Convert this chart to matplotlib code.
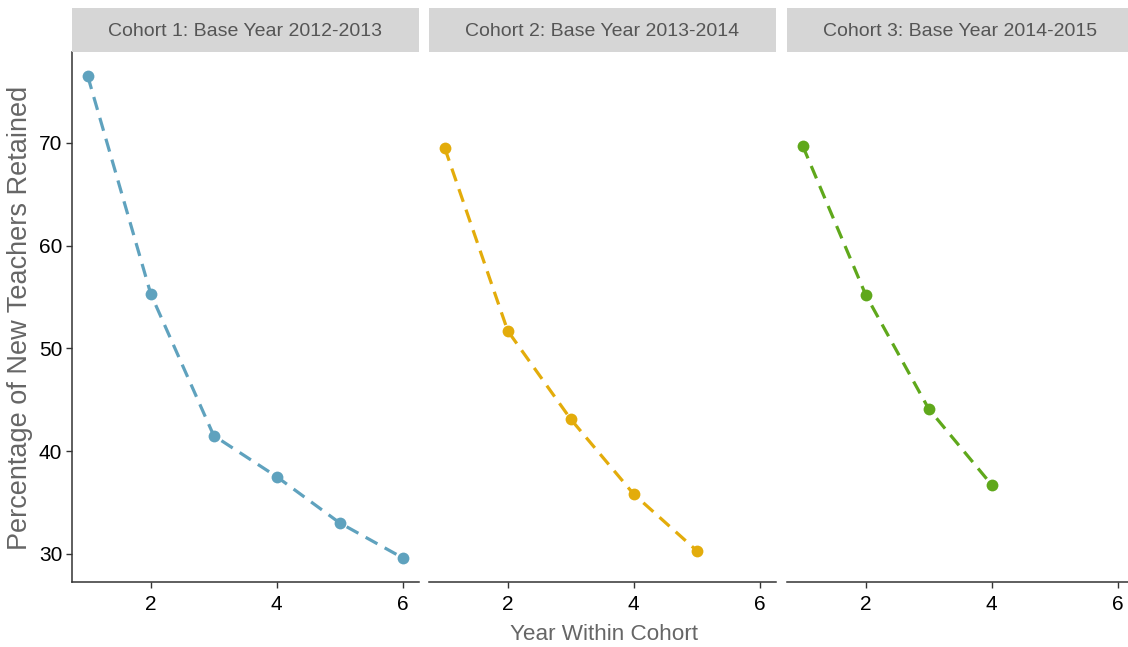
import matplotlib
matplotlib.use("Agg")
import matplotlib.pyplot as plt

FONT = "Liberation Sans"

# ---- data ----
cohort_titles = ["Cohort 1: Base Year 2012-2013",
                 "Cohort 2: Base Year 2013-2014",
                 "Cohort 3: Base Year 2014-2015"]
years_c1 = [1, 2, 3, 4, 5, 6]
retained_c1 = [76.5, 55.3, 41.5, 37.5, 33.0, 29.6]
years_c2 = [1, 2, 3, 4, 5]
retained_c2 = [69.5, 51.7, 43.1, 35.8, 30.3]
years_c3 = [1, 2, 3, 4]
retained_c3 = [69.7, 55.2, 44.1, 36.7]
colors = ["#5FA2BE", "#E3AC0B", "#5FA81B"]
x_ticks = [2, 4, 6]
y_ticks = [30, 40, 50, 60, 70]

series = [(years_c1, retained_c1), (years_c2, retained_c2), (years_c3, retained_c3)]

W, H = 1128, 647
fig = plt.figure(figsize=(W / 100, H / 100), dpi=100)

lefts_px = [72, 429, 787]
pw = 346.5
top_px, bot_px = 52, 582
strip_top = 8

axis_col = "#333333"
for i, (xs, ys) in enumerate(series):
    l = lefts_px[i] / W
    ax = fig.add_axes([l, (H - bot_px) / H, pw / W, (bot_px - top_px) / H])
    ax.plot(xs, ys, color=colors[i], lw=2.3, linestyle=(0, (4.2, 2.6)),
            marker="o", markersize=8.5, markeredgewidth=0, zorder=3)
    ax.set_xlim(0.75, 6.25)
    ax.set_ylim(27.25, 78.85)
    ax.set_xticks(x_ticks)
    ax.set_xticklabels([str(t) for t in x_ticks], fontsize=15, family=FONT, color="black")
    for s in ["top", "right"]:
        ax.spines[s].set_visible(False)
    ax.spines["bottom"].set_color(axis_col)
    ax.spines["bottom"].set_linewidth(1.1)
    ax.tick_params(axis="x", length=4, width=1.0, color=axis_col, pad=5)
    if i == 0:
        ax.set_yticks(y_ticks)
        ax.set_yticklabels([str(t) for t in y_ticks], fontsize=15, family=FONT, color="black")
        ax.spines["left"].set_color(axis_col)
        ax.spines["left"].set_linewidth(1.1)
        ax.tick_params(axis="y", length=4, width=1.0, color=axis_col, pad=3)
    else:
        ax.spines["left"].set_visible(False)
        ax.set_yticks([])
    # strip
    sax = fig.add_axes([l, (H - top_px) / H, pw / W, (top_px - strip_top) / H])
    sax.set_facecolor("#D6D6D6")
    sax.set_xticks([]); sax.set_yticks([])
    for s in sax.spines.values():
        s.set_visible(False)
    sax.text(0.5, 0.47, cohort_titles[i], ha="center", va="center", fontsize=14,
             family=FONT, color="#555555", transform=sax.transAxes)

fig.text(604 / W, 1 - 634 / H, "Year Within Cohort", ha="center", va="center",
         fontsize=16.2, family=FONT, color="#666666")
fig.text(20 / W, 1 - 318 / H, "Percentage of New Teachers Retained", ha="center", va="center",
         rotation=90, fontsize=19.5, family=FONT, color="#666666")

fig.savefig("out.png", dpi=100)
